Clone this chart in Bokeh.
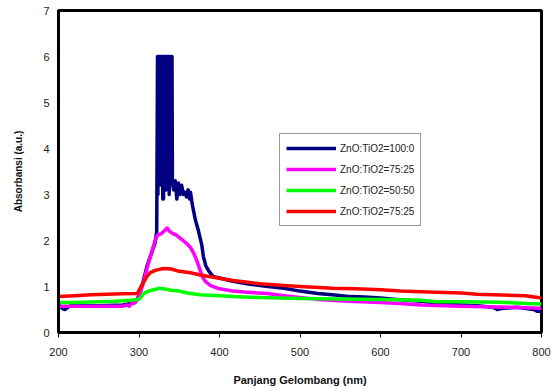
from bokeh.plotting import figure
from bokeh.models import FixedTicker, Legend, LegendItem
from bokeh.embed import file_html
from bokeh.resources import INLINE

# ---- data ----
wl_100_0 = [200, 205, 208, 212, 215, 220, 250, 280, 295, 300, 305, 310, 315, 318, 320, 322,
            323, 323.5, 324, 324.5, 325, 325.5, 326, 326.5, 327, 327.5, 328, 328.5, 329, 329.5, 330, 330.5,
            331, 331.5, 332, 332.5, 333, 333.5, 334, 334.5, 335, 335.5, 336, 336.5, 337, 337.5, 338, 338.5,
            339, 339.5, 340, 340.5, 341, 341.5, 342,
            343, 345, 347, 349, 351, 353, 355, 357, 359, 361, 363, 364, 366, 370, 374, 378, 380, 383, 387, 392,
            401, 415, 438, 460, 480, 500, 522, 540, 563, 580, 600, 620, 650, 680, 700, 720, 740, 745, 750,
            770, 790, 795, 800]
abs_100_0 = [0.60, 0.52, 0.50, 0.55, 0.58, 0.58, 0.58, 0.60, 0.65, 0.80, 1.10, 1.45, 1.70, 1.85, 1.95, 2.20,
             6.0, 3.0, 6.0, 4.4, 6.0, 3.5, 6.0, 4.4, 6.0, 3.2, 6.0, 4.4, 6.0, 2.9, 4.4, 2.9,
             6.0, 3.6, 6.0, 4.4, 6.0, 3.1, 6.0, 4.4, 6.0, 3.4, 6.0, 4.4, 6.0, 3.0, 6.0, 4.4,
             6.0, 3.5, 6.0, 4.4, 6.0, 3.3, 3.2,
             3.1, 3.3, 2.9, 3.25, 3.0, 3.2, 3.0, 3.05, 2.95, 3.1, 2.9, 3.05, 2.8, 2.45, 2.2, 1.9, 1.65, 1.45, 1.33, 1.22,
             1.18, 1.12, 1.05, 1.00, 0.96, 0.90, 0.85, 0.82, 0.78, 0.77, 0.75, 0.72, 0.68, 0.62, 0.60, 0.58, 0.55, 0.50, 0.52,
             0.55, 0.50, 0.46, 0.46]

wl_75_25a = [200, 250, 280, 285, 288, 290, 295, 300, 305, 310, 315, 320, 323, 328, 332, 335, 338, 342, 346, 351,
             356, 360, 364, 368, 372, 376, 379, 383, 389, 400, 414, 430, 459, 480, 500, 522, 560, 600, 625, 650,
             680, 700, 730, 760, 790, 800]
abs_75_25a = [0.57, 0.57, 0.57, 0.60, 0.57, 0.62, 0.65, 0.78, 1.05, 1.40, 1.70, 2.00, 2.12, 2.15, 2.22, 2.27, 2.20, 2.15, 2.12, 2.05,
              1.98, 1.92, 1.85, 1.72, 1.55, 1.35, 1.20, 1.10, 1.02, 0.95, 0.91, 0.88, 0.85, 0.80, 0.76, 0.72, 0.68, 0.65, 0.63, 0.60,
              0.58, 0.57, 0.56, 0.55, 0.53, 0.52]

wl_50_50 = [200, 220, 250, 270, 290, 300, 303, 306, 312, 318, 325, 330, 340, 350, 360, 376, 400, 417, 450, 500,
            550, 600, 650, 670, 700, 750, 780, 800]
abs_50_50 = [0.65, 0.65, 0.67, 0.68, 0.70, 0.72, 0.78, 0.85, 0.90, 0.93, 0.96, 0.95, 0.92, 0.90, 0.86, 0.82, 0.80, 0.78, 0.76, 0.74,
             0.73, 0.72, 0.70, 0.67, 0.67, 0.66, 0.63, 0.62]

wl_75_25b = [200, 220, 240, 260, 280, 298, 302, 306, 310, 314, 320, 330, 340, 350, 364, 376, 400, 417, 450, 480,
             500, 541, 570, 600, 625, 660, 700, 720, 780, 800]
abs_75_25b = [0.78, 0.80, 0.82, 0.83, 0.84, 0.85, 0.98, 1.10, 1.22, 1.30, 1.35, 1.39, 1.38, 1.33, 1.30, 1.25, 1.18, 1.13, 1.06, 1.02,
              1.00, 0.96, 0.95, 0.93, 0.90, 0.88, 0.86, 0.83, 0.80, 0.75]

series_labels = ["ZnO:TiO2=100:0", "ZnO:TiO2=75:25", "ZnO:TiO2=50:50", "ZnO:TiO2=75:25"]
series_colors = ["#000080", "#FF00FF", "#00FF00", "#FF0000"]
x_ticks = [200, 300, 400, 500, 600, 700, 800]
y_ticks = [0, 1, 2, 3, 4, 5, 6, 7]

FONT = "Liberation Sans"

p = figure(width=560, height=388, x_range=(200, 800), y_range=(0, 7),
           output_backend="svg", toolbar_location=None,
           min_border_left=58, min_border_right=19, min_border_top=10, min_border_bottom=56)
p.background_fill_color = "white"
p.border_fill_color = "white"
p.grid.visible = False
p.outline_line_color = "black"
p.outline_line_width = 3

data = [(wl_100_0, abs_100_0), (wl_75_25a, abs_75_25a), (wl_50_50, abs_50_50), (wl_75_25b, abs_75_25b)]
items = []
for (xs, ys), lab, col in zip(data, series_labels, series_colors):
    r = p.line(xs, ys, line_color=col, line_width=3.5, line_join="round")
    items.append(LegendItem(label=lab, renderers=[r]))

legend = Legend(items=items, location=(221, 106))
legend.label_text_font = FONT
legend.label_text_font_size = "10px"
legend.label_text_color = "#222222"
legend.glyph_width = 50
legend.glyph_height = 16
legend.label_height = 16
legend.spacing = 5
legend.padding = 6
legend.margin = 0
legend.label_standoff = 4
legend.border_line_color = "#333333"
legend.border_line_width = 1
legend.background_fill_alpha = 1.0
p.add_layout(legend, "center")

p.xaxis.ticker = FixedTicker(ticks=x_ticks)
p.yaxis.ticker = FixedTicker(ticks=y_ticks)
for ax in (p.xaxis, p.yaxis):
    ax.axis_line_color = "black"
    ax.axis_line_width = 3
    ax.major_tick_line_color = "black"
    ax.major_tick_line_width = 1
    ax.minor_tick_line_color = None
    ax.major_label_text_font = FONT
    ax.major_label_text_font_size = "11px"
    ax.major_label_text_color = "#222222"
    ax.axis_label_text_font = FONT
    ax.axis_label_text_font_style = "bold"
    ax.axis_label_text_color = "#111111"

p.xaxis.major_tick_out = 5
p.xaxis.major_tick_in = 0
p.xaxis.major_label_standoff = 10
p.xaxis.axis_label = "Panjang Gelombang (nm)"
p.xaxis.axis_label_text_font_size = "11px"
p.xaxis.axis_label_standoff = 15

p.yaxis.major_tick_out = 0
p.yaxis.major_tick_in = 0
p.yaxis.major_label_standoff = 9
p.yaxis.axis_label = "Absorbansi (a.u.)"
p.yaxis.axis_label_text_font_size = "10px"
p.yaxis.axis_label_standoff = 16

open("out.html", "w").write(file_html(p, INLINE))
